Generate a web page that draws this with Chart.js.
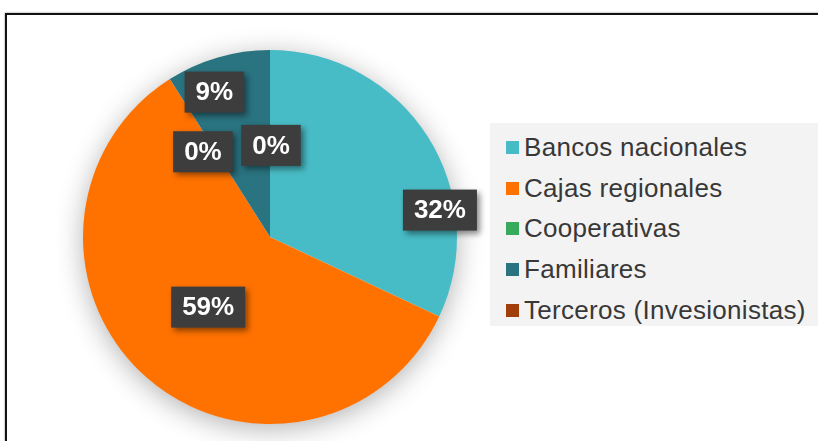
<!DOCTYPE html>
<html>
<head>
<meta charset="utf-8">
<script src="https://cdn.jsdelivr.net/npm/chart.js@4.4.1/dist/chart.umd.min.js"></script>
<style>
    html, body { margin: 0; padding: 0; background: #fff; overflow: hidden; }
    #marco { position: absolute; left: 5px; top: 13px; width: 830px; height: 450px; border: 2px solid #111; box-shadow: 0 0 2px #888; }
    #lienzo { position: absolute; left: 0; top: 0; }
    #leyenda { position: absolute; left: 490px; top: 123px; width: 340px; height: 203px; background: #f3f3f3; font-family: 'Liberation Sans', Arial, sans-serif; font-size: 26px; letter-spacing: 0.3px; color: #383838; }
    #leyenda div { position: absolute; left: 16px; white-space: nowrap; line-height: 30px; }
    #leyenda span { display: inline-block; width: 13px; height: 13px; margin-right: 5px; vertical-align: 2px; }
</style>
</head>
<body>
<div id="marco"></div>
<canvas id="lienzo" width="818" height="441"></canvas>
<div id="leyenda"></div>
<script>
var categorias = ['Bancos nacionales', 'Cajas regionales', 'Cooperativas', 'Familiares', 'Terceros (Invesionistas)'];
var porcentajes = [32, 59, 0, 9, 0];
var colores = ['#48BCC6', '#FF7200', '#38AA5C', '#2A7381', '#A13E0C'];

// ajuste manual de las etiquetas (fraccion del radio, giro en grados)
var ajusteEtiquetas = [
    { radio: 0.92, giro: 23.4 },
    { radio: 0.50, giro: 0 },
    { radio: 0.58, giro: -5.8 },
    { radio: 0.83, giro: -4.8 },
    { radio: 0.49, giro: 0.6 }
];

var leyenda = document.getElementById('leyenda');
categorias.forEach(function (nombre, i) {
    var fila = document.createElement('div');
    fila.style.top = (9 + i * 40.7) + 'px';
    fila.innerHTML = '<span style="background:' + colores[i] + '"></span>' + nombre;
    leyenda.appendChild(fila);
});

var sombraPastel = {
    id: 'sombraPastel',
    beforeDatasetsDraw: function (chart) {
        var arco = chart.getDatasetMeta(0).data[0];
        if (!arco)
            return;
        var ctx = chart.ctx;
        ctx.save();
        ctx.shadowColor = 'rgba(0, 0, 0, 0.32)';
        ctx.shadowBlur = 28;
        ctx.shadowOffsetY = 5;
        ctx.beginPath();
        ctx.arc(arco.x, arco.y, arco.outerRadius - 1, 0, Math.PI * 2);
        ctx.fillStyle = '#ffffff';
        ctx.fill();
        ctx.restore();
    }
};

var etiquetas = {
    id: 'etiquetas',
    afterDatasetsDraw: function (chart) {
        var ctx = chart.ctx;
        var meta = chart.getDatasetMeta(0);
        ctx.save();
        ctx.font = 'bold 26px "Liberation Sans", Arial, sans-serif';
        ctx.textAlign = 'center';
        ctx.textBaseline = 'middle';
        meta.data.forEach(function (arco, i) {
            var ajuste = ajusteEtiquetas[i];
            var medio = (arco.startAngle + arco.endAngle) / 2 + ajuste.giro * Math.PI / 180;
            var r = arco.outerRadius * ajuste.radio;
            var x = arco.x + Math.cos(medio) * r;
            var y = arco.y + Math.sin(medio) * r;
            var texto = porcentajes[i] + '%';
            var ancho = ctx.measureText(texto).width + 22;
            var alto = 41;
            ctx.shadowColor = 'rgba(0, 0, 0, 0.45)';
            ctx.shadowBlur = 6;
            ctx.shadowOffsetX = 3;
            ctx.shadowOffsetY = 3;
            ctx.fillStyle = '#3d3d3d';
            ctx.fillRect(x - ancho / 2, y - alto / 2, ancho, alto);
            ctx.shadowColor = 'transparent';
            ctx.fillStyle = '#ffffff';
            ctx.fillText(texto, x, y + 1);
        });
        ctx.restore();
    }
};

new Chart(document.getElementById('lienzo').getContext('2d'), {
    type: 'pie',
    data: {
        labels: categorias,
        datasets: [{
            data: porcentajes,
            backgroundColor: colores,
            borderWidth: 0
        }]
    },
    options: {
        responsive: false,
        animation: false,
        layout: { padding: { top: 50, bottom: 17, left: 83, right: 361 } },
        plugins: {
            legend: { display: false },
            tooltip: { enabled: false }
        }
    },
    plugins: [sombraPastel, etiquetas]
});
</script>
</body>
</html>
